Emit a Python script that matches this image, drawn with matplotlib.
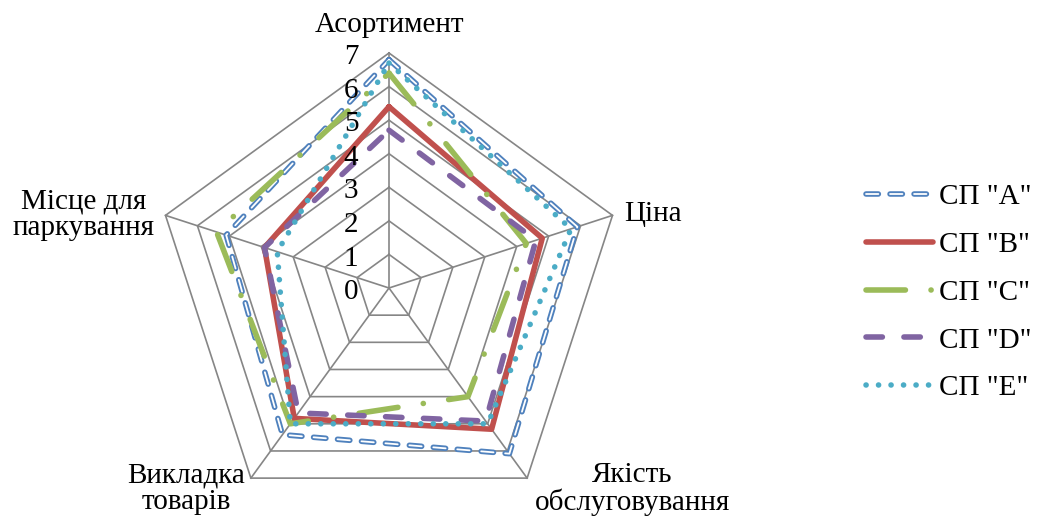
import numpy as np
import matplotlib
matplotlib.use("Agg")
import matplotlib.pyplot as plt

plt.rcParams['font.family'] = ['Liberation Serif', 'DejaVu Serif']
plt.rcParams['lines.scale_dashes'] = False

categories = ['Асортимент', 'Ціна', 'Якість обслуговування', 'Викладка товарів', 'Місце для паркування']
series_names = ['СП "A"', 'СП "B"', 'СП "C"', 'СП "D"', 'СП "E"']
sp_a = [6.8, 5.9, 6.1, 5.4, 5.1]
sp_b = [5.4, 4.8, 5.2, 4.8, 3.9]
sp_c = [6.4, 4.3, 4.0, 5.0, 5.4]
sp_d = [4.7, 4.6, 4.9, 4.6, 3.9]
sp_e = [6.7, 5.7, 5.0, 5.0, 3.5]
r_ticks = [0, 1, 2, 3, 4, 5, 6, 7]

W, H = 1037, 518
fig = plt.figure(figsize=(W / 100, H / 100), dpi=100)

# polar axes centred at (389, 288) px, radius 235 px
cx, cy, rad = 389, 288, 235
ax = fig.add_axes([(cx - rad) / W, (H - cy - rad) / H, 2 * rad / W, 2 * rad / H], projection='polar')
ax.set_theta_offset(np.pi / 2)
ax.set_theta_direction(-1)
ax.set_ylim(0, 7)
ax.grid(False)
ax.spines['polar'].set_visible(False)
ax.set_xticks([])
ax.set_yticks([])
ax.patch.set_alpha(0)

n = len(categories)
angles = np.linspace(0, 2 * np.pi, n, endpoint=False)
closed = np.append(angles, angles[0])

grid_col = '#868686'
for v in r_ticks[1:]:
    ax.plot(closed, [v] * (n + 1), color=grid_col, lw=1.2, clip_on=False, zorder=1)
for a in angles:
    ax.plot([a, a], [0, 7], color=grid_col, lw=1.2, clip_on=False, zorder=1)

fs = 21
for v in r_ticks:
    ax.annotate(str(v), xy=(0, v), xytext=(-22, -3), textcoords='offset points',
                ha='right', va='center', fontsize=fs, zorder=5)


def close(vals):
    return list(vals) + [vals[0]]


lw = 4
# СП "A": outlined dashes (blue stroke with white core)
a_out, = ax.plot(closed, close(sp_a), color='#4F81BD', lw=lw, linestyle=(0, (8.9, 8.4)),
                 dash_capstyle='round', clip_on=False, zorder=3)
a_in, = ax.plot(closed, close(sp_a), color='white', lw=1.3, linestyle=(0, (8.9, 8.4)),
                dash_capstyle='round', clip_on=False, zorder=3)
b_line, = ax.plot(closed, close(sp_b), color='#C0504D', lw=lw, solid_capstyle='round',
                  clip_on=False, zorder=3)
c_line, = ax.plot(closed, close(sp_c), color='#9BBB59', lw=lw, linestyle=(0, (28.4, 18.4, 0.1, 18.4)),
                  dash_capstyle='round', clip_on=False, zorder=3)
d_line, = ax.plot(closed, close(sp_d), color='#8064A2', lw=lw, linestyle=(0, (11.8, 15.5)),
                  dash_capstyle='round', clip_on=False, zorder=3)
e_line, = ax.plot(closed, close(sp_e), color='#4BACC6', lw=lw, linestyle=(0, (0.1, 8.9)),
                  dash_capstyle='round', clip_on=False, zorder=3)


def px(x, y):
    return x / W, 1 - y / H


# category labels
fig.text(*px(389, 25), categories[0], ha='center', va='center', fontsize=fs)
fig.text(*px(624, 214), categories[1], ha='left', va='center', fontsize=fs)
fig.text(*px(632, 489), 'Якість\nобслуговування', ha='center', va='center', fontsize=fs, linespacing=1.0)
fig.text(*px(186, 489), 'Викладка\nтоварів', ha='center', va='center', fontsize=fs, linespacing=1.0)
fig.text(*px(84, 215), 'Місце для\nпаркування', ha='center', va='center', fontsize=fs, linespacing=1.0)

handles = [(a_out, a_in), b_line, c_line, d_line, e_line]
fig.legend(handles, series_names, loc='upper left', bbox_to_anchor=px(866, 184),
           frameon=False, fontsize=fs, handlelength=2.3, handletextpad=0.2,
           labelspacing=0.73, borderpad=0, borderaxespad=0)

fig.savefig('out.png', dpi=100)
